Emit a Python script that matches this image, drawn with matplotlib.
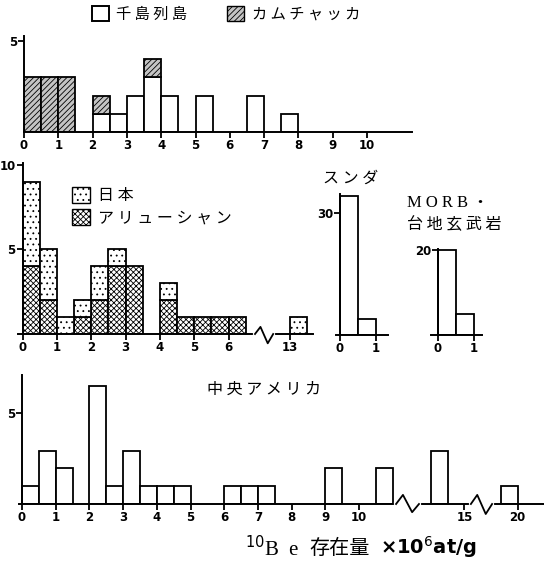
import numpy as np
import matplotlib
matplotlib.use("Agg")
import matplotlib.pyplot as plt
from matplotlib.patches import Patch

# 上段: 千島列島 / カムチャッカ (0.5 刻みのビン)
p1_bins = [0.0, 0.5, 1.0, 1.5, 2.0, 2.5, 3.0, 3.5, 4.0, 4.5, 5.0, 5.5, 6.0, 6.5, 7.0, 7.5]
kuril = [0, 0, 0, 0, 1, 1, 2, 3, 2, 0, 2, 0, 0, 2, 0, 1]
kamchatka = [3, 3, 3, 0, 1, 0, 0, 1, 0, 0, 0, 0, 0, 0, 0, 0]
p1_ticks = [0, 1, 2, 3, 4, 5, 6, 7, 8, 9, 10]

# 中段: 日本 / アリューシャン
p2_bins = [0.0, 0.5, 1.0, 1.5, 2.0, 2.5, 3.0, 3.5, 4.0, 4.5, 5.0, 5.5, 6.0, 13.0]
aleutian = [4, 2, 0, 1, 2, 4, 4, 0, 2, 1, 1, 1, 1, 0]
japan = [5, 3, 1, 1, 2, 1, 0, 0, 1, 0, 0, 0, 0, 1]
p2_ticks = [0, 1, 2, 3, 4, 5, 6, 13]
p2_breaks = [(7.0, 5.21)]   # (この値以上をずらす, ずらし量)

# スンダ, MORB
sunda_bins = [0.0, 0.5]
sunda = [34, 4]
morb_bins = [0.0, 0.5]
morb = [20, 5]

# 下段: 中央アメリカ
ca_bins = [0.0, 0.5, 1.0, 2.0, 2.5, 3.0, 3.5, 4.0, 4.5, 6.0, 6.5, 7.0, 9.0, 10.5, 14.0, 19.5]
ca = [1, 2.9, 2, 6.5, 1, 2.9, 1, 1, 1, 1, 1, 1, 2, 2, 2.9, 1]
ca_ticks = [0, 1, 2, 3, 4, 5, 6, 7, 8, 9, 10, 15, 20]
ca_breaks = [(11.5, 1.87), (16.0, 3.42)]

JP = ["Noto Sans CJK JP", "DejaVu Sans"]
plt.rcParams["hatch.linewidth"] = 0.6

W, H = 544, 566
fig = plt.figure(figsize=(W / 100, H / 100), dpi=100)

KAM_FC, KAM_HATCH = "#c4c4c4", "//////"
ALE_HATCH, JPN_HATCH = "xxxxxx", "..."


def px_axes(left, top, right, bottom):
    return fig.add_axes([left / W, 1 - bottom / H, (right - left) / W, (bottom - top) / H])


def shift(x, breaks):
    return x - sum(s for start, s in breaks if x >= start)


def style(ax, xticks, yticks, breaks=()):
    for s in ["top", "right"]:
        ax.spines[s].set_visible(False)
    for s in ["left", "bottom"]:
        ax.spines[s].set_linewidth(1.4)
    ax.spines["left"].set_position(("data", 0))
    ax.set_xticks([shift(t, breaks) for t in xticks], [str(t) for t in xticks])
    ax.set_yticks(yticks, [str(t) for t in yticks])
    ax.tick_params(direction="out", length=4, width=1.3, labelsize=8.5, pad=1)
    for lab in ax.get_xticklabels() + ax.get_yticklabels():
        lab.set_family("DejaVu Sans")
        lab.set_fontweight("bold")
    ax.patch.set_alpha(0)


def zigzag(ax, x0, x1, up, down):
    xs = [x0, x0 + (x1 - x0) * 0.3, x0 + (x1 - x0) * 0.7, x1]
    ax.plot([x0, x1], [0, 0], color="white", lw=3, zorder=5, clip_on=False)
    ax.plot(xs, [0, up, -down, 0], color="black", lw=1.3, zorder=6, clip_on=False)


def nz_bar(ax, bins, vals, bottom=None, breaks=(), **kw):
    bottom = bottom if bottom is not None else [0] * len(vals)
    for b, v, b0 in zip(bins, vals, bottom):
        if v > 0:
            ax.bar(shift(b, breaks), v, width=0.5, align="edge", bottom=b0,
                   edgecolor="black", linewidth=1.3, **kw)


# --- 上段 ---
ax1 = px_axes(24, 36, 412, 132)
nz_bar(ax1, p1_bins, kuril, facecolor="white")
nz_bar(ax1, p1_bins, kamchatka, bottom=kuril, facecolor=KAM_FC, hatch=KAM_HATCH)
ax1.set_xlim(0, 11.31)
ax1.set_ylim(0, 5.27)
style(ax1, p1_ticks, [5])

fig.legend(handles=[Patch(facecolor="white", edgecolor="black", linewidth=1.4, label="千 島 列 島"),
                    Patch(facecolor=KAM_FC, edgecolor="black", hatch=KAM_HATCH, linewidth=1.0,
                          label="カ ム チ ャ ッ カ")],
           loc="upper left", bbox_to_anchor=(92 / W, 1 - 6 / H), ncol=2, frameon=False,
           borderpad=0, borderaxespad=0, handlelength=1.1, handleheight=1.1,
           handletextpad=0.5, columnspacing=2.6, prop={"family": JP, "size": 11})

# --- 中段 ---
ax2 = px_axes(18.2, 163, 313, 334)
nz_bar(ax2, p2_bins, aleutian, breaks=p2_breaks, facecolor="white", hatch=ALE_HATCH)
nz_bar(ax2, p2_bins, japan, bottom=aleutian, breaks=p2_breaks, facecolor="white", hatch=JPN_HATCH)
ax2.set_xlim(-0.13, 8.46)
ax2.set_ylim(0, 10.1)
style(ax2, p2_ticks, [5, 10], p2_breaks)
zigzag(ax2, 6.77, 7.3, 0.42, 0.55)
ax2.legend(handles=[Patch(facecolor="white", edgecolor="black", hatch=JPN_HATCH, label="日 本"),
                    Patch(facecolor="white", edgecolor="black", hatch=ALE_HATCH,
                          label="ア リ ュ ー シ ャ ン")],
           loc="upper left", bbox_to_anchor=(72 / W, 1 - 187 / H), bbox_transform=fig.transFigure,
           frameon=False, borderpad=0, borderaxespad=0, handlelength=1.15, handleheight=1.15,
           handletextpad=0.45, labelspacing=0.3, prop={"family": JP, "size": 11.5})

# --- スンダ ---
ax3 = px_axes(336.4, 194, 388, 335)
nz_bar(ax3, sunda_bins, sunda, facecolor="white")
ax3.set_xlim(-0.1, 1.333)
ax3.set_ylim(0, 34.6)
style(ax3, [0, 1], [30])

# --- MORB ---
ax4 = px_axes(430.8, 249, 482, 335)
nz_bar(ax4, morb_bins, morb, facecolor="white")
ax4.set_xlim(-0.2, 1.222)
ax4.set_ylim(0, 20.2)
style(ax4, [0, 1], [20])

# --- 中央アメリカ ---
ax5 = px_axes(19, 375, 544, 504)
nz_bar(ax5, ca_bins, ca, breaks=ca_breaks, facecolor="white")
ax5.set_xlim(-0.09, 15.49)
ax5.set_ylim(0, 7.09)
style(ax5, ca_ticks, [5], ca_breaks)
zigzag(ax5, 11.1, 11.78, 0.5, 0.45)
zigzag(ax5, 13.32, 13.95, 0.5, 0.55)


def figtext(x, y, s, size=11.5, **kw):
    fig.text(x / W, 1 - y / H, s, ha="left", va="center", size=size, **kw)


figtext(323, 178, "ス ン ダ", family=JP)
figtext(407, 203, "M O R B ・", family=["Liberation Serif", "Noto Sans CJK JP"], size=12)
figtext(407, 225, "台 地 玄 武 岩", family=JP)
figtext(207, 389, "中 央 ア メ リ カ", family=JP)

# 横軸ラベル: ¹⁰Be 存在量 ×10⁶ at/g
figtext(245, 549, r"$^{10}$B  e", family="Liberation Serif", size=15)
figtext(309, 548, "存在量", family=JP, size=14.5)
figtext(380, 547, r"×10$^6$at/g", family="DejaVu Sans", weight="bold", size=14)

fig.savefig("out.png", dpi=100)
